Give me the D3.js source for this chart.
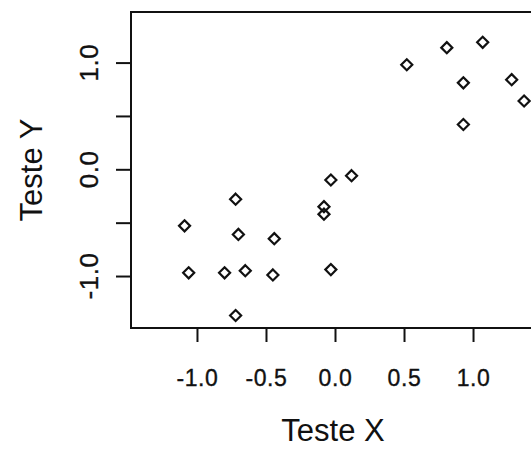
<!DOCTYPE html>
<html>
<head>
<meta charset="utf-8">
<script src="https://cdn.jsdelivr.net/npm/d3@7"></script>
<style>
    body { margin: 0; background: #fff; }
    svg { display: block; }
    .tick-label { font-family: "Liberation Sans", Arial, sans-serif; fill: #111; stroke: #111; stroke-width: 0.35px; letter-spacing: 0.6px; }
    .axis-title { font-family: "Liberation Sans", Arial, sans-serif; font-size: 31px; fill: #111; }
</style>
</head>
<body>
<div id="chart"></div>
<script>
// data
const testeX = [0.52, 0.81, 1.07, 0.93, 1.28, 1.37, 0.93, -0.03, 0.12, -0.72, -0.08,
    -0.08, -1.09, -0.70, -0.44, -1.06, -0.80, -0.65, -0.45, -0.03, -0.72];
const testeY = [0.98, 1.14, 1.19, 0.81, 0.84, 0.64, 0.42, -0.10, -0.06, -0.28, -0.35,
    -0.42, -0.53, -0.61, -0.65, -0.97, -0.97, -0.95, -0.99, -0.94, -1.37];

const X_TICKS = [-1.0, -0.5, 0.0, 0.5, 1.0];
const Y_TICKS = [-1.0, -0.5, 0.0, 0.5, 1.0];
const Y_LABELS = [-1.0, 0.0, 1.0]; // R drops the overlapping ones

const width = 531;
const height = 449;

// R prints a plain hyphen, not the unicode minus d3.format gives
let fmt = d => d.toFixed(1);

// plot box (right side runs off the picture)
let box = {left: 131, top: 12, right: 535, bottom: 328};

let x = d3.scaleLinear().domain([-1.478, 1.449]).range([box.left, box.right]);
let y = d3.scaleLinear().domain([-1.487, 1.474]).range([box.bottom, box.top]);

let svg = d3.select('#chart').append('svg')
    .attr('width', width)
    .attr('height', height);

// frame
svg.append('rect')
    .attr('x', box.left)
    .attr('y', box.top)
    .attr('width', box.right - box.left)
    .attr('height', box.bottom - box.top)
    .attr('fill', 'none')
    .attr('stroke', '#111')
    .attr('stroke-width', 2);

// x axis ticks + labels
let xAxis = svg.append('g').attr('transform', 'translate(0,' + box.bottom + ')')
    .call(d3.axisBottom(x).tickValues(X_TICKS).tickSize(14).tickFormat(fmt));
xAxis.select('.domain').remove();
xAxis.selectAll('.tick line').attr('stroke', '#111').attr('stroke-width', 2);
xAxis.attr('font-size', null).attr('font-family', null);
xAxis.selectAll('.tick text')
    .attr('class', 'tick-label')
    .style('font-size', '23px')
    .attr('y', 58)
    .attr('dy', 0);

// y axis ticks
let yAxis = svg.append('g').attr('transform', 'translate(' + box.left + ',0)')
    .call(d3.axisLeft(y).tickValues(Y_TICKS).tickSize(15).tickFormat(''));
yAxis.select('.domain').remove();
yAxis.selectAll('.tick line').attr('stroke', '#111').attr('stroke-width', 2);

// y labels, rotated like R's las=0
svg.append('g').selectAll('text')
    .data(Y_LABELS)
    .join('text')
    .attr('class', 'tick-label')
    .style('font-size', '26px')
    .attr('text-anchor', 'middle')
    .attr('transform', d => 'translate(98,' + y(d) + ') rotate(-90)')
    .text(fmt);

// axis titles
svg.append('text')
    .attr('class', 'axis-title')
    .attr('text-anchor', 'middle')
    .attr('x', (box.left + box.right) / 2)
    .attr('y', 441)
    .text('Teste X');

svg.append('text')
    .attr('class', 'axis-title')
    .attr('text-anchor', 'middle')
    .attr('transform', 'translate(42,' + ((box.top + box.bottom) / 2) + ') rotate(-90)')
    .text('Teste Y');

// points as open diamonds (pch = 5)
let diamond = d3.symbol().type(d3.symbolDiamond2).size(78);

svg.append('g').selectAll('path')
    .data(testeX.map((v, i) => ({x: v, y: testeY[i]})))
    .join('path')
    .attr('d', diamond)
    .attr('transform', d => 'translate(' + x(d.x) + ',' + y(d.y) + ')')
    .attr('fill', 'none')
    .attr('stroke', '#111')
    .attr('stroke-width', 2.2);
</script>
</body>
</html>
